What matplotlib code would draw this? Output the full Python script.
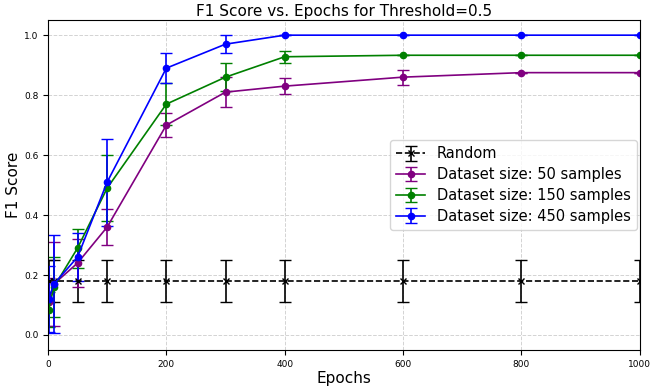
import matplotlib
matplotlib.use('Agg')
import matplotlib.pyplot as plt

# ============================
# DATOS
# ============================

epochs = [1, 10, 50, 100, 200, 300, 400, 600, 800, 1000]

random_f1 = [0.18] * 10
random_err = [0.07] * 10

f1_50 = [0.11, 0.17, 0.24, 0.36, 0.70, 0.81, 0.83, 0.86, 0.875, 0.875]
err_50 = [0.08, 0.14, 0.08, 0.06, 0.04, 0.05, 0.027, 0.025, 0.0, 0.0]

f1_150 = [0.085, 0.16, 0.29, 0.49, 0.77, 0.86, 0.928, 0.933, 0.933, 0.933]
err_150 = [0.06, 0.10, 0.065, 0.11, 0.07, 0.047, 0.02, 0.0, 0.0, 0.0]

f1_450 = [0.12, 0.17, 0.26, 0.51, 0.89, 0.97, 1.0, 1.0, 1.0, 1.0]
err_450 = [0.11, 0.165, 0.08, 0.145, 0.05, 0.03, 0.0, 0.0, 0.0, 0.0]

# ============================
# GRAFICO
# ============================

fig = plt.figure(figsize=(6.51, 3.88), dpi=100)
ax = fig.add_axes([0.0737, 0.098, 0.909, 0.85])

ax.errorbar(epochs, random_f1, yerr=random_err, fmt='x--', color='black',
            capsize=4, markersize=4.5, linewidth=1.2, label='Random')
ax.errorbar(epochs, f1_50, yerr=err_50, fmt='o-', color='purple',
            capsize=4, markersize=4.5, linewidth=1.2, label='Dataset size: 50 samples')
ax.errorbar(epochs, f1_150, yerr=err_150, fmt='o-', color='green',
            capsize=4, markersize=4.5, linewidth=1.2, label='Dataset size: 150 samples')
ax.errorbar(epochs, f1_450, yerr=err_450, fmt='o-', color='blue',
            capsize=4, markersize=4.5, linewidth=1.2, label='Dataset size: 450 samples')

ax.set_xlim(0, 1000)
ax.set_ylim(-0.05, 1.05)
ax.set_yticks([0.0, 0.2, 0.4, 0.6, 0.8, 1.0])
ax.tick_params(labelsize=6.5)
ax.set_title("F1 Score vs. Epochs for Threshold=0.5", fontsize=11, pad=3)
ax.set_xlabel("Epochs", fontsize=11, labelpad=2)
ax.set_ylabel("F1 Score", fontsize=11, labelpad=2)
ax.grid(True, linestyle='--', color='lightgray', linewidth=0.7)
ax.legend(loc='center right', fontsize=10.5, labelspacing=0.4,
          borderaxespad=0.2, bbox_to_anchor=(1.0, 0.5))

fig.savefig('out.png', dpi=100)
